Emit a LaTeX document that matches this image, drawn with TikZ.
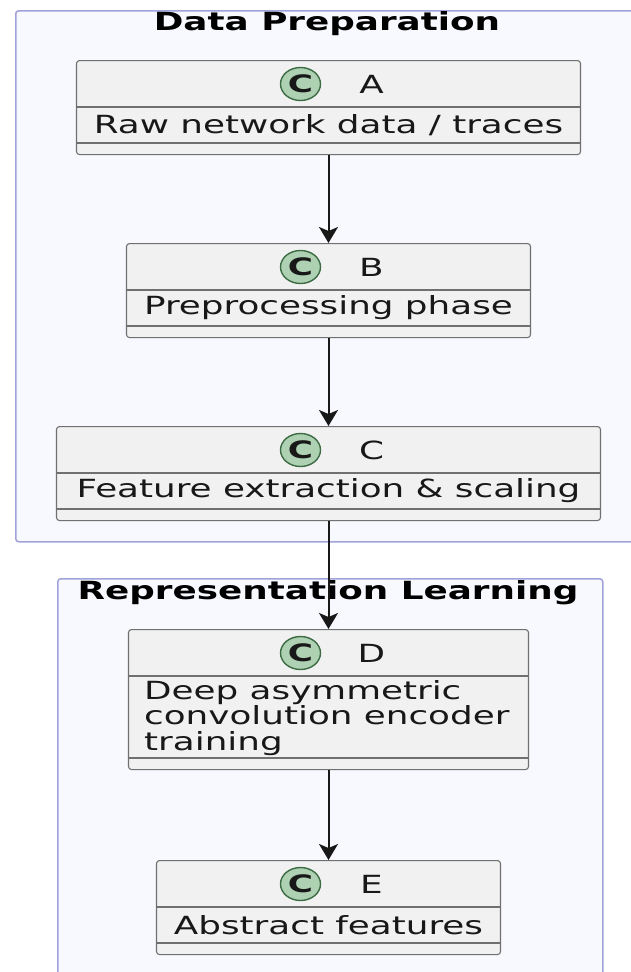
\documentclass[tikz,border=0pt]{standalone}
\usepackage{fontspec}
\newfontfamily\dv{DejaVu Sans}[FakeStretch=1.43]
\usetikzlibrary{calc,arrows.meta,shapes.geometric}
\definecolor{pkgfill}{HTML}{F8F9FF}
\definecolor{pkgline}{HTML}{A0A2DA}
\definecolor{boxfill}{HTML}{F1F1F1}
\definecolor{boxline}{HTML}{707070}
\definecolor{spotfill}{HTML}{ADD1B2}
\definecolor{spotline}{HTML}{3D6B44}
\definecolor{ink}{HTML}{181818}
\tikzset{
  pkg/.style={draw=pkgline, fill=pkgfill, line width=1.5pt, rounded corners=3pt},
  pkgtitle/.style={font=\dv\bfseries\fontsize{25}{27}\selectfont, text=black, inner sep=0pt},
  cbox/.style={draw=boxline, fill=boxfill, line width=1.1pt, rounded corners=3pt, inner sep=0pt},
  divider/.style={draw=boxline, line width=1.1pt},
  spot/.style={ellipse, draw=spotline, fill=spotfill, line width=1.4pt, minimum width=40pt, minimum height=33pt, inner sep=0pt,
    font=\dv\bfseries\fontsize{24}{26}\selectfont, text=ink},
  hdr/.style={font=\dv\fontsize{25}{27}\selectfont, text=ink, inner sep=0pt},
  bodytxt/.style={font=\dv\fontsize{25}{25.5}\selectfont, text=ink, inner sep=0pt, align=left},
  flow/.style={draw=ink, line width=2pt, -{Stealth[length=16pt, width=19pt, inset=4pt]}}
}
% class box: name, centre x, top y, width, body height, letter
\newcommand\classbox[6]{%
  \node[cbox, minimum width=#4pt, minimum height={47pt+#5pt+11pt}, anchor=north] (#1) at (#2,#3) {};
  \draw[divider] ($(#1.north west)+(0,-47pt)$) coordinate (#1h1) -- ($(#1.north east)+(0,-47pt)$) coordinate (#1h2);
  \draw[divider] ($(#1.north west)+(0,-47pt-#5pt)$) coordinate (#1b1) -- ($(#1.north east)+(0,-47pt-#5pt)$) coordinate (#1b2);
  \node[spot] (#1spot) at ($(#1.north)+(-28pt,-24pt)$) {C};
  \node[hdr] (#1name) at ($(#1.north)+(43pt,-24pt)$) {#6};
}
\begin{document}
\begin{tikzpicture}[x=1pt, y=-1pt]
  \useasboundingbox[fill=white] (0,0) rectangle (631,972);

  % packages
  \node[pkg, anchor=north west, minimum width=640pt, minimum height=531pt] (prep) at (15,10) {};
  \node[pkgtitle] (preptitle) at (327,24) {Data Preparation};
  \node[pkg, anchor=north west, minimum width=545pt, minimum height=420pt] (repr) at (57,578) {};
  \node[pkgtitle] (reprtitle) at (328,593) {Representation Learning};

  % classes
  \classbox{A}{328.5}{60}{504}{36}{A}
  \node[bodytxt] (Abody) at ($(A.north)+(0,-65pt)$) {Raw network data / traces};

  \classbox{B}{328.5}{243}{404}{36}{B}
  \node[bodytxt] (Bbody) at ($(B.north)+(0,-65pt)$) {Preprocessing phase};

  \classbox{C}{328.5}{426}{544}{36}{C}
  \node[bodytxt] (Cbody) at ($(C.north)+(0,-65pt)$) {Feature extraction \& scaling};

  \classbox{D}{328.5}{629}{400}{82}{D}
  \node[bodytxt, anchor=west] (Dbody) at (144,718) {Deep asymmetric\\convolution encoder\\training};

  \classbox{E}{328.5}{860}{344}{36}{E}
  \node[bodytxt] (Ebody) at ($(E.north)+(0,-65pt)$) {Abstract features};

  % flow
  \draw[flow] (A.south) -- (B.north);
  \draw[flow] (B.south) -- (C.north);
  \draw[flow] (C.south) -- (D.north);
  \draw[flow] (D.south) -- (E.north);
\end{tikzpicture}
\end{document}
